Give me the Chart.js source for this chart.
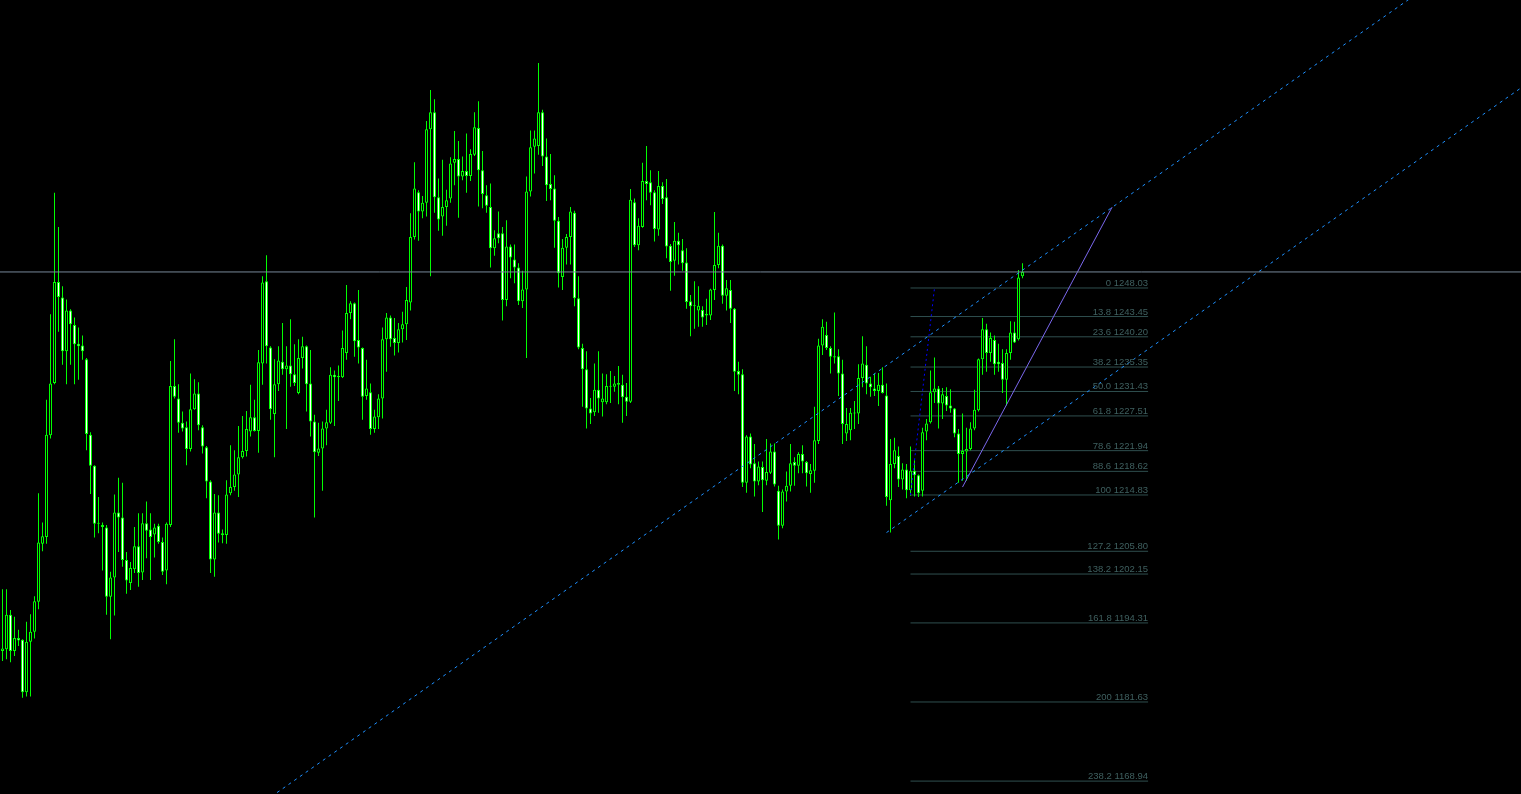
<!DOCTYPE html>
<html>
<head>
<meta charset="utf-8">
<script src="https://cdn.jsdelivr.net/npm/chart.js@4.4.1/dist/chart.umd.min.js"></script>
<style>
  html, body { margin: 0; padding: 0; background: #000; overflow: hidden; }
  canvas { display: block; }
</style>
</head>
<body>
<canvas id="chart" width="1521" height="794"></canvas>
<script>
// OHLC, one value per bar, oldest first
const opens = [
  1189.8,1190.1,1195.6,1189.8,1191.9,1191.6,1183.2,1191.3,1192.9,1197.7,1207.0,1208.1,1224.4,1232.8,1249.0,1246.5,
  1237.9,1244.4,1242.1,1239.1,1238.8,1236.6,1224.5,1219.5,1210.2,1210.0,1209.6,1198.5,1201.6,1212.0,1211.2,1204.4,
  1200.7,1202.9,1206.6,1202.4,1210.3,1209.3,1208.5,1209.9,1207.3,1202.7,1210.0,1232.3,1230.3,1226.4,1225.7,1222.2,
  1228.6,1231.1,1225.7,1222.5,1217.0,1204.5,1212.0,1208.7,1208.4,1215.1,1216.1,1218.1,1220.9,1221.9,1225.0,1227.3,
  1225.1,1235.9,1249.1,1238.5,1227.8,1232.6,1236.2,1235.0,1235.6,1234.2,1231.2,1236.8,1238.7,1232.7,1226.6,1221.6,
  1222.3,1225.5,1226.4,1234.1,1233.7,1233.7,1237.6,1244.0,1245.6,1239.7,1238.4,1230.7,1231.3,1225.4,1227.3,1230.3,
  1239.8,1243.3,1240.0,1239.2,1241.4,1242.2,1245.7,1256.2,1263.4,1260.3,1261.7,1273.5,1276.2,1262.6,1259.5,1261.0,
  1262.4,1268.1,1268.7,1265.9,1266.8,1266.0,1269.4,1273.7,1266.9,1262.9,1261.0,1254.4,1256.8,1256.8,1246.1,1254.7,
  1252.6,1251.3,1245.9,1247.8,1263.5,1270.7,1270.8,1276.2,1269.1,1264.7,1264.0,1258.8,1249.8,1254.5,1256.2,1260.1,
  1246.4,1238.4,1235.0,1228.7,1228.1,1231.7,1229.7,1229.7,1232.3,1232.2,1232.5,1232.5,1230.6,1229.8,1261.8,1254.9,
  1257.8,1265.2,1265.0,1263.4,1257.4,1264.4,1262.6,1254.8,1252.4,1255.6,1254.1,1252.1,1245.9,1245.2,1244.4,1244.5,
  1243.9,1243.6,1247.7,1251.7,1254.8,1246.8,1247.7,1244.7,1234.7,1234.2,1216.8,1224.2,1219.9,1217.0,1219.3,1217.1,
  1218.4,1221.8,1215.5,1209.9,1215.4,1216.3,1220.1,1219.5,1221.4,1220.1,1218.2,1218.7,1223.5,1238.8,1240.5,1238.4,
  1236.9,1237.1,1234.3,1224.7,1225.2,1227.9,1227.9,1233.6,1235.7,1232.7,1231.9,1231.5,1232.5,1230.8,1214.0,1219.8,
  1221.1,1217.3,1218.9,1215.6,1218.7,1218.0,1215.5,1225.0,1226.5,1231.3,1231.9,1229.5,1230.7,1229.2,1228.7,1224.7,
  1221.4,1221.8,1222.2,1225.5,1228.4,1236.6,1241.4,1237.6,1239.7,1236.2,1236.0,1233.3,1237.6,1240.9,1239.8,1249.9
];
const highs = [
  1199.7,1199.7,1196.4,1195.3,1193.2,1191.7,1194.5,1195.7,1198.6,1215.1,1210.4,1230.1,1243.8,1263.3,1257.8,1248.3,
  1246.2,1244.6,1243.3,1241.7,1240.4,1236.8,1224.9,1219.6,1214.5,1210.4,1210.0,1202.5,1214.9,1217.6,1216.8,1205.7,
  1204.1,1209.7,1211.9,1211.9,1213.8,1211.9,1210.2,1210.2,1208.0,1210.4,1236.3,1239.8,1232.6,1228.2,1226.6,1234.3,
  1233.4,1232.9,1226.0,1222.7,1217.2,1215.0,1214.8,1209.3,1217.2,1222.8,1222.0,1225.9,1227.5,1228.3,1232.5,1230.1,
  1238.1,1249.9,1253.3,1238.7,1236.6,1238.7,1242.4,1238.7,1243.0,1239.0,1239.8,1240.2,1238.8,1238.1,1227.7,1226.4,
  1226.6,1228.5,1235.3,1234.8,1235.6,1241.2,1248.5,1245.9,1245.7,1247.7,1238.5,1236.5,1232.7,1228.5,1231.0,1241.7,
  1244.0,1243.6,1243.2,1242.4,1244.2,1248.2,1260.0,1268.2,1263.7,1262.8,1274.8,1279.8,1278.3,1265.6,1268.6,1263.8,
  1269.0,1273.2,1271.6,1269.1,1272.8,1270.3,1276.2,1278.0,1270.0,1264.5,1264.8,1257.3,1260.3,1257.8,1258.9,1255.0,
  1255.0,1252.0,1250.8,1265.9,1273.3,1273.3,1284.1,1276.6,1272.0,1269.5,1266.1,1259.4,1255.9,1256.7,1261.0,1260.4,
  1249.9,1239.1,1237.9,1230.4,1235.9,1237.9,1234.3,1234.2,1234.7,1233.9,1235.5,1234.1,1232.8,1263.9,1262.4,1259.2,
  1268.1,1270.8,1266.9,1263.7,1266.8,1265.0,1265.5,1255.1,1258.6,1256.9,1255.9,1254.4,1246.9,1249.1,1248.3,1245.1,
  1246.3,1247.9,1260.2,1256.9,1255.0,1249.3,1249.3,1244.8,1236.2,1235.0,1224.4,1224.7,1223.0,1220.2,1220.2,1223.8,
  1223.1,1223.1,1216.3,1215.7,1218.6,1223.0,1220.9,1221.7,1222.8,1220.3,1219.8,1229.0,1239.9,1243.0,1242.6,1238.7,
  1244.1,1238.2,1236.5,1228.8,1228.8,1229.9,1235.8,1240.3,1238.7,1233.8,1234.3,1234.4,1235.3,1232.7,1223.8,1224.0,
  1222.6,1219.9,1219.8,1222.6,1220.4,1218.1,1225.6,1227.0,1234.8,1236.9,1232.3,1232.0,1232.1,1231.8,1228.8,1225.4,
  1227.9,1225.6,1226.5,1231.7,1236.7,1243.2,1242.3,1240.9,1240.4,1239.1,1238.2,1238.2,1242.7,1242.6,1250.9,1252.0
];
const lows = [
  1188.2,1188.5,1188.0,1189.0,1190.6,1182.3,1182.5,1182.5,1191.8,1196.5,1205.8,1207.0,1223.9,1232.6,1241.0,1235.7,
  1232.6,1235.7,1232.6,1233.3,1236.5,1222.0,1215.0,1208.0,1208.7,1202.7,1195.6,1191.7,1195.5,1205.7,1203.3,1199.0,
  1199.6,1202.3,1200.1,1201.2,1204.7,1201.2,1204.8,1207.0,1202.0,1200.5,1209.7,1230.3,1224.8,1225.0,1219.6,1221.8,
  1228.5,1225.2,1221.5,1214.3,1202.3,1201.7,1207.2,1207.1,1207.0,1214.8,1215.5,1214.5,1220.7,1221.0,1224.2,1225.0,
  1221.6,1232.5,1235.9,1226.9,1220.9,1231.5,1234.1,1225.4,1232.2,1232.3,1231.0,1235.1,1228.2,1224.2,1211.2,1221.1,
  1215.5,1222.8,1226.2,1225.9,1229.9,1233.6,1236.5,1243.0,1237.0,1235.9,1226.9,1230.1,1224.5,1224.8,1225.4,1227.1,
  1234.6,1238.6,1237.2,1237.7,1239.3,1239.7,1244.4,1255.8,1255.6,1259.2,1259.5,1249.9,1260.1,1257.2,1256.4,1258.0,
  1261.7,1264.5,1259.3,1265.3,1263.3,1265.2,1269.2,1261.1,1260.8,1260.1,1251.3,1253.2,1255.2,1242.8,1245.1,1249.6,
  1248.8,1245.3,1244.8,1236.8,1262.7,1266.4,1269.4,1267.6,1262.0,1262.1,1254.5,1248.1,1247.7,1251.8,1251.8,1245.1,
  1238.2,1229.0,1225.5,1226.2,1227.5,1228.0,1227.4,1229.4,1229.6,1231.4,1229.4,1226.4,1227.5,1229.6,1254.6,1254.1,
  1257.7,1262.1,1261.3,1255.5,1256.4,1261.5,1252.8,1247.6,1250.0,1251.8,1250.8,1244.7,1240.3,1241.5,1241.8,1241.8,
  1242.1,1242.9,1246.1,1251.2,1245.5,1244.4,1242.4,1231.5,1231.0,1216.1,1215.2,1219.1,1214.6,1216.4,1212.1,1216.4,
  1218.2,1216.2,1207.7,1209.5,1213.8,1215.4,1216.3,1218.3,1218.3,1216.2,1215.2,1216.8,1223.0,1237.3,1238.1,1234.3,
  1235.9,1230.7,1223.0,1223.5,1223.6,1225.4,1226.2,1232.1,1231.0,1230.6,1230.7,1229.1,1231.1,1213.1,1208.8,1219.1,
  1216.1,1215.7,1214.3,1214.7,1214.6,1214.5,1214.6,1223.6,1226.3,1229.6,1225.5,1227.0,1228.3,1228.0,1224.1,1216.8,
  1217.1,1217.1,1222.0,1225.2,1228.2,1234.1,1234.6,1236.2,1234.1,1234.6,1231.2,1229.2,1236.5,1239.2,1239.6,1249.6
];
const closes = [
  1190.2,1195.6,1189.8,1191.9,1191.5,1183.2,1191.3,1192.9,1197.8,1207.2,1208.2,1224.5,1232.7,1249.0,1246.6,1237.9,
  1244.4,1242.2,1239.0,1238.7,1237.9,1224.6,1219.5,1210.2,1210.3,1209.7,1198.5,1201.6,1212.0,1211.2,1204.4,1201.1,
  1203.1,1206.6,1202.3,1210.3,1209.1,1208.1,1209.6,1207.3,1202.5,1210.2,1232.3,1230.6,1226.4,1225.5,1222.2,1228.6,
  1231.1,1226.0,1222.6,1217.0,1204.5,1212.0,1208.6,1208.4,1214.9,1216.1,1218.1,1220.9,1221.9,1225.4,1227.3,1225.1,
  1236.1,1248.9,1238.7,1228.6,1232.6,1236.4,1235.0,1235.6,1234.2,1232.8,1236.8,1238.7,1232.6,1226.6,1221.7,1222.3,
  1225.5,1226.5,1234.1,1233.7,1233.9,1238.4,1244.0,1245.6,1239.5,1238.5,1230.6,1231.9,1225.4,1227.4,1230.3,1239.8,
  1243.3,1239.8,1239.2,1241.4,1242.2,1246.1,1256.2,1264.0,1260.3,1261.7,1273.5,1276.2,1262.6,1259.0,1261.0,1262.1,
  1268.0,1268.7,1265.9,1266.8,1266.0,1269.5,1273.8,1266.9,1263.1,1261.2,1254.4,1256.0,1256.0,1246.1,1254.7,1252.9,
  1251.3,1245.9,1247.8,1263.5,1270.6,1272.0,1276.2,1269.1,1264.5,1263.9,1258.8,1250.4,1254.5,1256.2,1260.3,1246.4,
  1238.5,1235.0,1228.7,1227.9,1231.7,1230.3,1230.3,1232.3,1232.2,1232.7,1232.8,1230.5,1229.8,1262.2,1254.9,1258.0,
  1265.2,1264.7,1263.3,1257.5,1264.4,1262.3,1254.7,1252.2,1255.6,1254.9,1252.0,1245.8,1245.1,1245.1,1245.2,1243.3,
  1243.6,1247.8,1251.7,1254.8,1246.8,1248.0,1244.7,1234.6,1234.1,1216.8,1224.2,1219.7,1217.0,1219.4,1217.2,1218.5,
  1221.8,1216.5,1209.9,1215.4,1216.3,1219.9,1219.5,1221.4,1220.2,1218.3,1218.8,1223.6,1238.8,1241.8,1238.4,1237.0,
  1237.1,1234.3,1226.2,1226.2,1228.0,1228.0,1233.6,1235.9,1232.7,1232.1,1231.5,1232.5,1231.2,1214.5,1219.8,1222.0,
  1217.3,1218.9,1215.6,1218.7,1218.0,1215.1,1224.9,1226.3,1231.3,1231.9,1229.5,1231.0,1229.2,1228.7,1224.7,1221.4,
  1221.9,1222.2,1225.5,1228.5,1236.6,1241.4,1237.6,1240.0,1235.8,1235.8,1233.3,1237.6,1240.9,1239.3,1249.7,1250.6
];

// Fibonacci retracement levels
const fibRatios = ['0', '13.8', '23.6', '38.2', '50.0', '61.8', '78.6', '88.6', '100', '127.2', '138.2', '161.8', '200', '238.2'];
const fibPrices = [1248.03, 1243.45, 1240.20, 1235.35, 1231.43, 1227.51, 1221.94, 1218.62, 1214.83, 1205.80, 1202.15, 1194.31, 1181.63, 1168.94];
const fibFrom = 227;
const fibTo = 286.4;

// drawn objects, in bar index / price
const channelTop = [{x: 50, y: 1158.72}, {x: 360, y: 1298.10}];
const channelBottom = [{x: 221, y: 1208.80}, {x: 380, y: 1280.29}];
const fibTrend = [{x: 227, y: 1214.83}, {x: 233, y: 1248.03}];
const trendLine = [{x: 240, y: 1216.1}, {x: 277.4, y: 1261.0}];

const lime = '#00FF00';
const lastClose = closes[closes.length - 1];
const idx = opens.map((_, i) => i);

const line = (data, color, dash, order = 0) => ({
    type: 'line',
    data: data,
    borderColor: color,
    borderWidth: 1,
    borderDash: dash,
    pointRadius: 0,
    tension: 0,
    order: order
});

const fibLabels = {
    id: 'fibLabels',
    afterDatasetsDraw(chart) {
        const {ctx, scales: {x, y}} = chart;
        ctx.save();
        ctx.font = '9.5px "Liberation Sans", Arial, sans-serif';
        ctx.fillStyle = '#3f6060';
        ctx.textAlign = 'right';
        ctx.textBaseline = 'alphabetic';
        const right = x.getPixelForValue(fibTo);
        fibRatios.forEach((r, i) => {
            ctx.fillText(r + ' ' + fibPrices[i].toFixed(2), right, y.getPixelForValue(fibPrices[i]) - 2);
        });
        ctx.restore();
    }
};

new Chart(document.getElementById('chart'), {
    type: 'bar',
    data: {
        datasets: [
            ...fibPrices.map(p => line([{x: fibFrom, y: p}, {x: fibTo, y: p}], '#2F4F4F', [], 3)),
            line([{x: -5, y: lastClose}, {x: 400, y: lastClose}], '#778899', [], 0),
            line(channelTop, '#1E90FF', [3, 4], 0),
            line(channelBottom, '#1E90FF', [3, 4], 0),
            line(fibTrend, '#0000FF', [2, 3], 0),
            line(trendLine, '#7B68EE', [], 0),
            {
                label: 'body',
                data: idx.map(i => ({x: i, y: [opens[i], closes[i]]})),
                backgroundColor: c => closes[c.dataIndex] < opens[c.dataIndex] ? '#FFFFFF' : '#000000',
                borderColor: lime,
                borderWidth: 1,
                borderSkipped: false,
                barThickness: 3,
                minBarLength: 1,
                inflateAmount: 0,
                grouped: false,
                order: 1
            },
            {
                label: 'wick',
                data: idx.map(i => ({x: i, y: [lows[i], highs[i]]})),
                backgroundColor: lime,
                borderWidth: 0,
                barThickness: 1,
                inflateAmount: 0,
                grouped: false,
                order: 2
            }
        ]
    },
    options: {
        responsive: false,
        animation: false,
        devicePixelRatio: 1,
        events: [],
        layout: { padding: 0 },
        plugins: {
            legend: { display: false },
            tooltip: { enabled: false }
        },
        scales: {
            x: { type: 'linear', min: -0.625, max: 379.625, offset: false, display: false },
            y: { type: 'linear', min: 1166.87, max: 1294.22, display: false }
        }
    },
    plugins: [fibLabels]
});
</script>
</body>
</html>
